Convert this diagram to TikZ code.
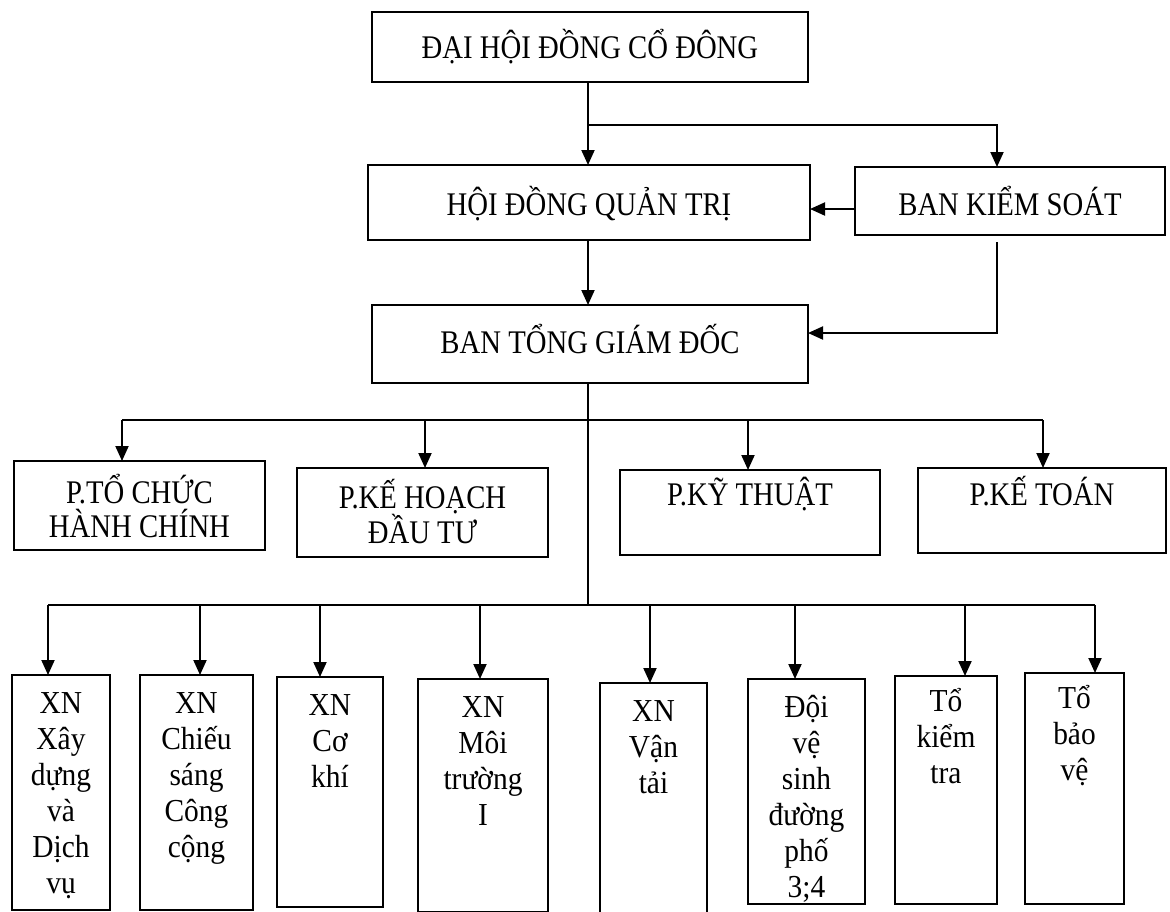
\documentclass[tikz,border=0pt]{standalone}
\usepackage{fontspec}
\setmainfont{Liberation Serif}[FakeStretch=0.92]
\newfontfamily\narrowf{Liberation Serif}[FakeStretch=0.87]
\usetikzlibrary{arrows.meta}
\newcommand{\tbox}[4]{\parbox[c][#2][t]{#1}{\vspace*{\dimexpr#3-30pt\relax}\centering\rule{0pt}{30pt}#4\par}}
\begin{document}
\begin{tikzpicture}[x=1pt,y=-1pt,
  box/.style={draw, line width=2.2pt, inner sep=0pt, outer sep=0pt, anchor=north west},
  upper/.style={box, font=\narrowf\fontsize{33}{34}\selectfont},
  lower/.style={box, font=\fontsize{32}{36}\selectfont},
  arr/.style={line width=2pt, -{Triangle[length=15pt,width=13pt]}},
  ln/.style={line width=2pt}]
\useasboundingbox (0,0) rectangle (1170,911);
% top level
\node[upper] (dh)   at (372,12)  {\tbox{436pt}{70pt}{46pt}{ĐẠI HỘI ĐỒNG CỔ ĐÔNG}};
\node[upper] (hdqt) at (368,165) {\tbox{442pt}{75pt}{50pt}{HỘI ĐỒNG QUẢN TRỊ}};
\node[upper] (bks)  at (855,167) {\tbox{310pt}{68pt}{48pt}{BAN KIỂM SOÁT}};
\node[upper] (btgd) at (372,305) {\tbox{436pt}{78pt}{48pt}{BAN TỔNG GIÁM ĐỐC}};
% departments
\node[upper] (p1) at (14,461)  {\tbox{251pt}{89pt}{42pt}{P.TỔ CHỨC\\HÀNH CHÍNH}};
\node[upper] (p2) at (297,468) {\tbox{251pt}{89pt}{40pt}{P.KẾ HOẠCH\\ĐẦU TƯ}};
\node[upper] (p3) at (620,470) {\tbox{260pt}{85pt}{35pt}{P.KỸ THUẬT}};
\node[upper] (p4) at (918,468) {\tbox{248pt}{85pt}{37pt}{P.KẾ TOÁN}};
% units
\node[lower] (b1) at (12,675)  {\tbox{98pt}{235pt}{38pt}{XN\\Xây\\dựng\\và\\Dịch\\vụ}};
\node[lower] (b2) at (140,675) {\tbox{113pt}{235pt}{38pt}{XN\\Chiếu\\sáng\\Công\\cộng}};
\node[lower] (b3) at (277,677) {\tbox{106pt}{230pt}{38pt}{XN\\Cơ\\khí}};
\node[lower] (b4) at (418,679) {\tbox{130pt}{233pt}{38pt}{XN\\Môi\\trường\\I}};
\node[lower] (b5) at (600,683) {\tbox{107pt}{240pt}{38pt}{XN\\Vận\\tải}};
\node[lower] (b6) at (748,679) {\tbox{117pt}{225pt}{38pt}{Đội\\vệ\\sinh\\đường\\phố\\3;4}};
\node[lower] (b7) at (895,676) {\tbox{102pt}{228pt}{35pt}{Tổ\\kiểm\\tra}};
\node[lower] (b8) at (1025,673){\tbox{99pt}{231pt}{35pt}{Tổ\\bảo\\vệ}};
% helper coordinates
\coordinate (cx) at (588,0);
\coordinate (k1) at (997,125);
\coordinate (k2) at (0,209);
\coordinate (k3) at (997,333);
\coordinate (ma) at (122,420);
\coordinate (mb) at (425,420);
\coordinate (mc) at (748,420);
\coordinate (md) at (1043,420);
\coordinate (s1) at (48,605);
\coordinate (s2) at (200,605);
\coordinate (s3) at (320,605);
\coordinate (s4) at (480,605);
\coordinate (s5) at (650,605);
\coordinate (s6) at (795,605);
\coordinate (s7) at (965,605);
\coordinate (s8) at (1095,605);
% connectors, top
\draw[arr] (dh.south -| cx) -- (hdqt.north -| cx);
\draw[arr] (k1 -| cx) -- (k1) -- (k1 |- bks.north);
\draw[arr] (bks.west |- k2) -- (hdqt.east |- k2);
\draw[arr] (hdqt.south -| cx) -- (btgd.north -| cx);
\draw[arr] ([yshift=-7pt]k3 |- bks.south) -- (k3) -- (btgd.east |- k3);
% trunk and buses
\draw[ln] (btgd.south -| cx) -- (s1 -| cx);
\draw[ln] (ma) -- (md);
\draw[ln] (s1) -- (s8);
\foreach \c/\n in {ma/p1, mb/p2, mc/p3, md/p4}
  \draw[arr] (\c) -- (\c |- \n.north);
\foreach \c/\n in {s1/b1, s2/b2, s3/b3, s4/b4, s5/b5, s6/b6, s7/b7, s8/b8}
  \draw[arr] (\c) -- (\c |- \n.north);
\end{tikzpicture}
\end{document}
